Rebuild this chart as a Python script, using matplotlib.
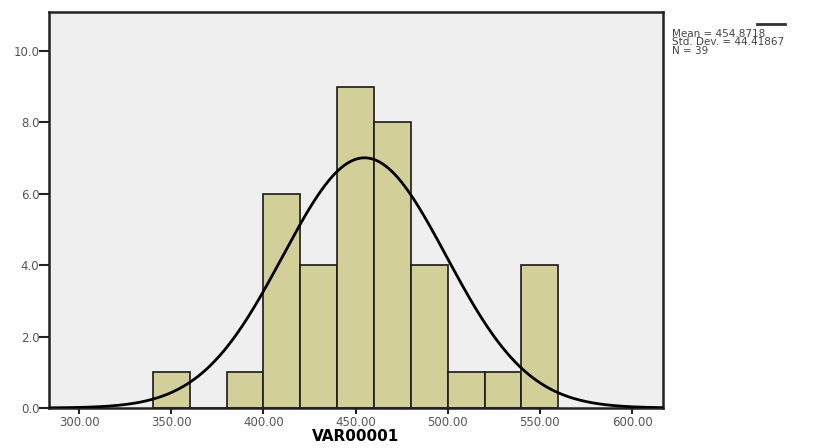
import numpy as np
import matplotlib
matplotlib.use("Agg")
import matplotlib.pyplot as plt

plt.rcParams["font.family"] = ["DejaVu Sans"]

# histogram bins (width 20) and counts
bin_edges = [340, 360, 380, 400, 420, 440, 460, 480, 500, 520, 540, 560]
counts = [1, 0, 1, 6, 4, 9, 8, 4, 1, 1, 4]
mean = 454.8718
std = 44.41867
n = 39

x_ticks = [300, 350, 400, 450, 500, 550, 600]
y_ticks = [0, 2, 4, 6, 8, 10]

fig = plt.figure(figsize=(8.28, 4.48), dpi=100)
ax = fig.add_axes([0.0592, 0.0893, 0.7415, 0.884])
ax.set_facecolor("#efefef")

lefts = np.array(bin_edges[:-1])
widths = np.diff(bin_edges)
ax.bar(lefts, counts, width=widths, align="edge", color="#d3cf98",
       edgecolor="#1a1a1a", linewidth=1.2, zorder=2)

# normal curve scaled to counts
bw = widths[0]
t = np.linspace(283, 617, 600)
pdf = n * bw / (std * np.sqrt(2 * np.pi)) * np.exp(-0.5 * ((t - mean) / std) ** 2)
ax.plot(t, pdf, color="black", linewidth=2, zorder=3)

ax.set_xlim(283.7, 616.8)
ax.set_ylim(0, 11.09)
ax.set_xticks(x_ticks)
ax.set_xticklabels([f"{v:.2f}" for v in x_ticks])
ax.set_yticks(y_ticks)
ax.set_yticklabels([f"{v:.1f}" for v in y_ticks])
ax.tick_params(axis="both", direction="out", width=1.5,
               labelsize=8.5, labelcolor="#555555", color="#222222")
ax.tick_params(axis="x", length=4, pad=2)
ax.tick_params(axis="y", length=7, pad=0)
for s in ax.spines.values():
    s.set_linewidth(1.8)
    s.set_color("#222222")

ax.set_xlabel("VAR00001", fontsize=11, fontweight="bold", labelpad=0)

# legend block
fig.add_artist(plt.Line2D([757 / 828, 785 / 828], [1 - 24 / 448, 1 - 24 / 448],
                          color="#333333", linewidth=2))
fig.text(672 / 828, 1 - 29 / 448,
         f"Mean = {mean}\nStd. Dev. = {std}\nN = {n}",
         fontsize=7.5, color="#444444", va="top", ha="left", linespacing=0.8)

fig.savefig("out.png", dpi=100)
